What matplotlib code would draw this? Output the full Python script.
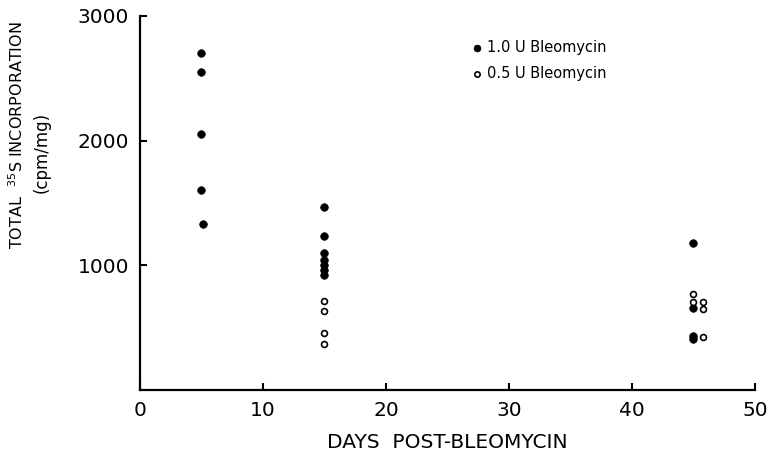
import matplotlib
matplotlib.use("Agg")
import matplotlib.pyplot as plt

# data
days_hi = [5, 5, 5, 5, 5.1, 15, 15, 15, 15, 15, 15, 15, 45, 45, 45, 45]
incorp_hi = [2700, 2550, 2050, 1600, 1330,
             1470, 1235, 1100, 1045, 1005, 965, 920,
             1180, 655, 435, 405]

days_lo = [15, 15, 15, 15, 45, 45, 45.8, 45.8, 45.8]
incorp_lo = [715, 635, 455, 365, 770, 705, 705, 650, 425]

x_ticks = [0, 10, 20, 30, 40, 50]
y_ticks = [1000, 2000, 3000]

plt.rcParams['font.family'] = 'DejaVu Sans'

fig = plt.figure(figsize=(7.7, 4.55), dpi=100)
ax = fig.add_axes([0.1818, 0.143, 0.7987, 0.822])

ax.scatter(days_hi, incorp_hi, s=30, c='black', edgecolors='black',
           linewidths=0.5, label='1.0 U Bleomycin', zorder=3)
ax.scatter(days_lo, incorp_lo, s=18, facecolors='white', edgecolors='black',
           linewidths=1.2, label='0.5 U Bleomycin', zorder=3)

ax.set_xlim(0, 50)
ax.set_ylim(0, 3000)
ax.set_xticks(x_ticks)
ax.set_yticks(y_ticks)
ax.tick_params(direction='in', length=5, width=1.5, labelsize=14.5, pad=8)

for side in ['top', 'right']:
    ax.spines[side].set_visible(False)
for side in ['left', 'bottom']:
    ax.spines[side].set_linewidth(1.6)

ax.set_xlabel('DAYS  POST-BLEOMYCIN', fontsize=14.5, labelpad=9)

# y label written as two separate lines
fig.text(0.021, 0.703, r'TOTAL  $^{35}$S INCORPORATION', rotation=90,
         ha='center', va='center', fontsize=11.5)
fig.text(0.054, 0.664, '(cpm/mg)', rotation=90,
         ha='center', va='center', fontsize=12)

ax.legend(frameon=False, loc='upper left', bbox_to_anchor=(0.515, 0.97),
          handletextpad=0.2, handlelength=1.0, labelspacing=0.75,
          fontsize=10.5, markerscale=0.9)

plt.savefig('out.png', dpi=100)
